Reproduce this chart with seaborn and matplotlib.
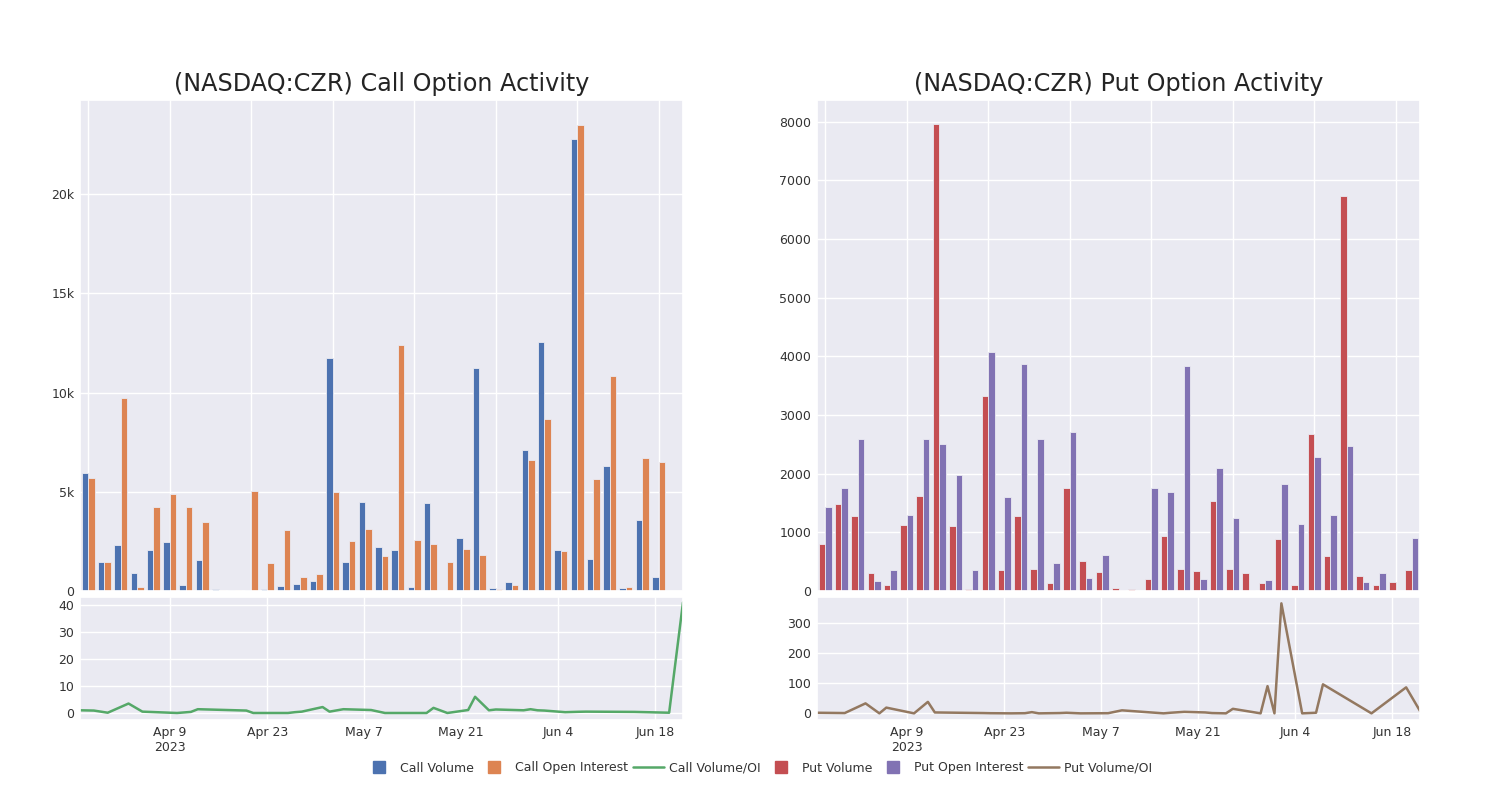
import pandas as pd
import matplotlib
matplotlib.use("Agg")
import matplotlib.pyplot as plt
from matplotlib.lines import Line2D
from matplotlib.ticker import FuncFormatter, FixedLocator
import seaborn as sns

dates = ["2023-03-27", "2023-03-29", "2023-03-31", "2023-04-03", "2023-04-05", "2023-04-06",
         "2023-04-10", "2023-04-12", "2023-04-13", "2023-04-20", "2023-04-21", "2023-04-24",
         "2023-04-26", "2023-04-27", "2023-04-28", "2023-05-01", "2023-05-02", "2023-05-04",
         "2023-05-08", "2023-05-10", "2023-05-16", "2023-05-17", "2023-05-19", "2023-05-22",
         "2023-05-23", "2023-05-25", "2023-05-26", "2023-05-30", "2023-05-31", "2023-06-01",
         "2023-06-02", "2023-06-05", "2023-06-07", "2023-06-08", "2023-06-15", "2023-06-20",
         "2023-06-22"]

call_volume = [5970, 1470, 2310, 890, 2050, 2470, 300, 1580, 100, 50, 70, 80, 250, 340, 500,
               11730, 1450, 4510, 2200, 2050, 220, 4440, 0, 2690, 11230, 130, 450, 7120, 12560,
               2050, 22800, 1600, 6310, 130, 3570, 710, 20]
call_oi = [5690, 1480, 9730, 220, 4240, 4900, 4240, 3480, 50, 50, 5050, 1410, 3050, 720, 880,
           4980, 2540, 3150, 1770, 12410, 2590, 2390, 1460, 2100, 1800, 120, 320, 6620, 8670,
           2020, 23500, 5670, 10860, 220, 6720, 6500, 0]
call_ratio = [1.0, 0.9, 0.1, 3.5, 0.5, 0.4, 0.0, 0.4, 1.4, 0.9, 0.0, 0.0, 0.0, 0.3, 0.5, 2.2,
              0.5, 1.4, 1.1, 0.0, 0.0, 1.9, 0.0, 1.1, 6.0, 1.0, 1.3, 1.0, 1.4, 1.0, 0.9, 0.3,
              0.45, 0.5, 0.4, 0.1, 41.0]

put_volume = [800, 1480, 1280, 310, 110, 1120, 1620, 7960, 1110, 40, 3330, 350, 1280, 380, 140,
              1750, 510, 320, 50, 30, 200, 930, 380, 340, 1540, 370, 300, 140, 890, 110, 2670,
              600, 6740, 250, 100, 150, 350]
put_oi = [1430, 1760, 2590, 170, 360, 1300, 2590, 2500, 1980, 350, 4080, 1610, 3870, 2590, 470,
          2710, 230, 620, 20, 0, 1750, 1690, 3830, 210, 2090, 1250, 10, 190, 1830, 1140, 2280,
          1290, 2470, 150, 310, 0, 910]
put_ratio = [2, 1.5, 1, 33, 0, 19, 0, 38, 3, 1, 0.5, 0, 0.5, 4, 0, 1, 2, 0, 0.5, 10, 0, 2, 5,
             3, 1, 0, 15, 0, 90, 0, 364, 0, 2, 96, 0, 86, 8]

colors = {"Call Volume": "#4C72B0", "Call Open Interest": "#DD8452", "Call Volume/OI": "#55A868",
          "Put Volume": "#C44E52", "Put Open Interest": "#8172B3", "Put Volume/OI": "#937860"}

sns.set_theme(style="darkgrid")
plt.rcParams["font.family"] = ["DejaVu Sans"]
text_color = "#333333"

fig = plt.figure(figsize=(15, 8), dpi=100)

W, H = 1500, 800


def box(x0, y0, x1, y1):
    return [x0 / W, 1 - y1 / H, (x1 - x0) / W, (y1 - y0) / H]


panels = [
    ("Call", call_volume, call_oi, call_ratio, 80, 24750, [0, 5000, 10000, 15000, 20000],
     (-2.6, 43), [0, 10, 20, 30, 40]),
    ("Put", put_volume, put_oi, put_ratio, 817, 8370, list(range(0, 8001, 1000)),
     (-22, 385), [0, 100, 200, 300]),
]

dt = pd.to_datetime(dates)

for name, vol, oi, ratio, x0, ytop, yticks, ylim2, yticks2 in panels:
    ax = fig.add_axes(box(x0, 100, x0 + 603, 591))
    ax2 = fig.add_axes(box(x0, 597, x0 + 603, 720))

    df = pd.DataFrame({"date": dates * 2,
                       "value": vol + oi,
                       "series": [f"{name} Volume"] * len(dates) + [f"{name} Open Interest"] * len(dates)})
    sns.barplot(data=df, x="date", y="value", hue="series", order=dates,
                palette=[colors[f"{name} Volume"], colors[f"{name} Open Interest"]],
                width=0.8, edgecolor="#EAEAF2", linewidth=0.6, saturation=1,
                legend=False, ax=ax)
    ax.set_xlim(-0.5, len(dates) - 0.5)
    ax.set_ylim(0, ytop)
    ax.xaxis.set_major_locator(FixedLocator(list(range(0, len(dates), 5))))
    ax.xaxis.grid(True, color="white", linewidth=1)
    ax.set_xticklabels([])
    ax.set_yticks(yticks)
    if name == "Call":
        ax.yaxis.set_major_formatter(FuncFormatter(lambda v, p: "0" if v == 0 else f"{int(v / 1000)}k"))
    ax.set_xlabel("")
    ax.set_ylabel("")
    ax.tick_params(length=0, labelsize=9, colors=text_color, pad=4)

    ldf = pd.DataFrame({"date": dt, "ratio": ratio})
    sns.lineplot(data=ldf, x="date", y="ratio", color=colors[f"{name} Volume/OI"],
                 linewidth=1.8, ax=ax2)
    ax2.set_xlim(dt[0], dt[-1])
    ax2.set_ylim(*ylim2)
    ax2.set_yticks(yticks2)
    tick_dates = pd.to_datetime(["2023-04-09", "2023-04-23", "2023-05-07", "2023-05-21",
                                 "2023-06-04", "2023-06-18"])
    ax2.set_xticks(tick_dates)
    ax2.set_xticklabels(["Apr 9\n2023", "Apr 23", "May 7", "May 21", "Jun 4", "Jun 18"])
    ax2.set_xlabel("")
    ax2.set_ylabel("")
    ax2.tick_params(length=0, labelsize=9, colors=text_color, pad=4)

    fig.text((x0 + 301.5) / W, 1 - 84 / H, f"(NASDAQ:CZR) {name} Option Activity",
             ha="center", va="center", fontsize=17.2, color="#242424")

handles = [
    Line2D([], [], marker="s", linestyle="none", markersize=9, color=colors["Call Volume"]),
    Line2D([], [], marker="s", linestyle="none", markersize=9, color=colors["Call Open Interest"]),
    Line2D([], [], color=colors["Call Volume/OI"], linewidth=1.8),
    Line2D([], [], marker="s", linestyle="none", markersize=9, color=colors["Put Volume"]),
    Line2D([], [], marker="s", linestyle="none", markersize=9, color=colors["Put Open Interest"]),
    Line2D([], [], color=colors["Put Volume/OI"], linewidth=1.8),
]
labels = ["Call Volume", "Call Open Interest", "Call Volume/OI",
          "Put Volume", "Put Open Interest", "Put Volume/OI"]
leg = fig.legend(handles, labels, loc="center", bbox_to_anchor=(758 / W, 1 - 768 / H),
                 ncol=6, frameon=False, fontsize=9, handlelength=2.5, columnspacing=0.4,
                 handletextpad=0.4)
for t in leg.get_texts():
    t.set_color(text_color)

fig.savefig("out.png", dpi=100, facecolor="white")
